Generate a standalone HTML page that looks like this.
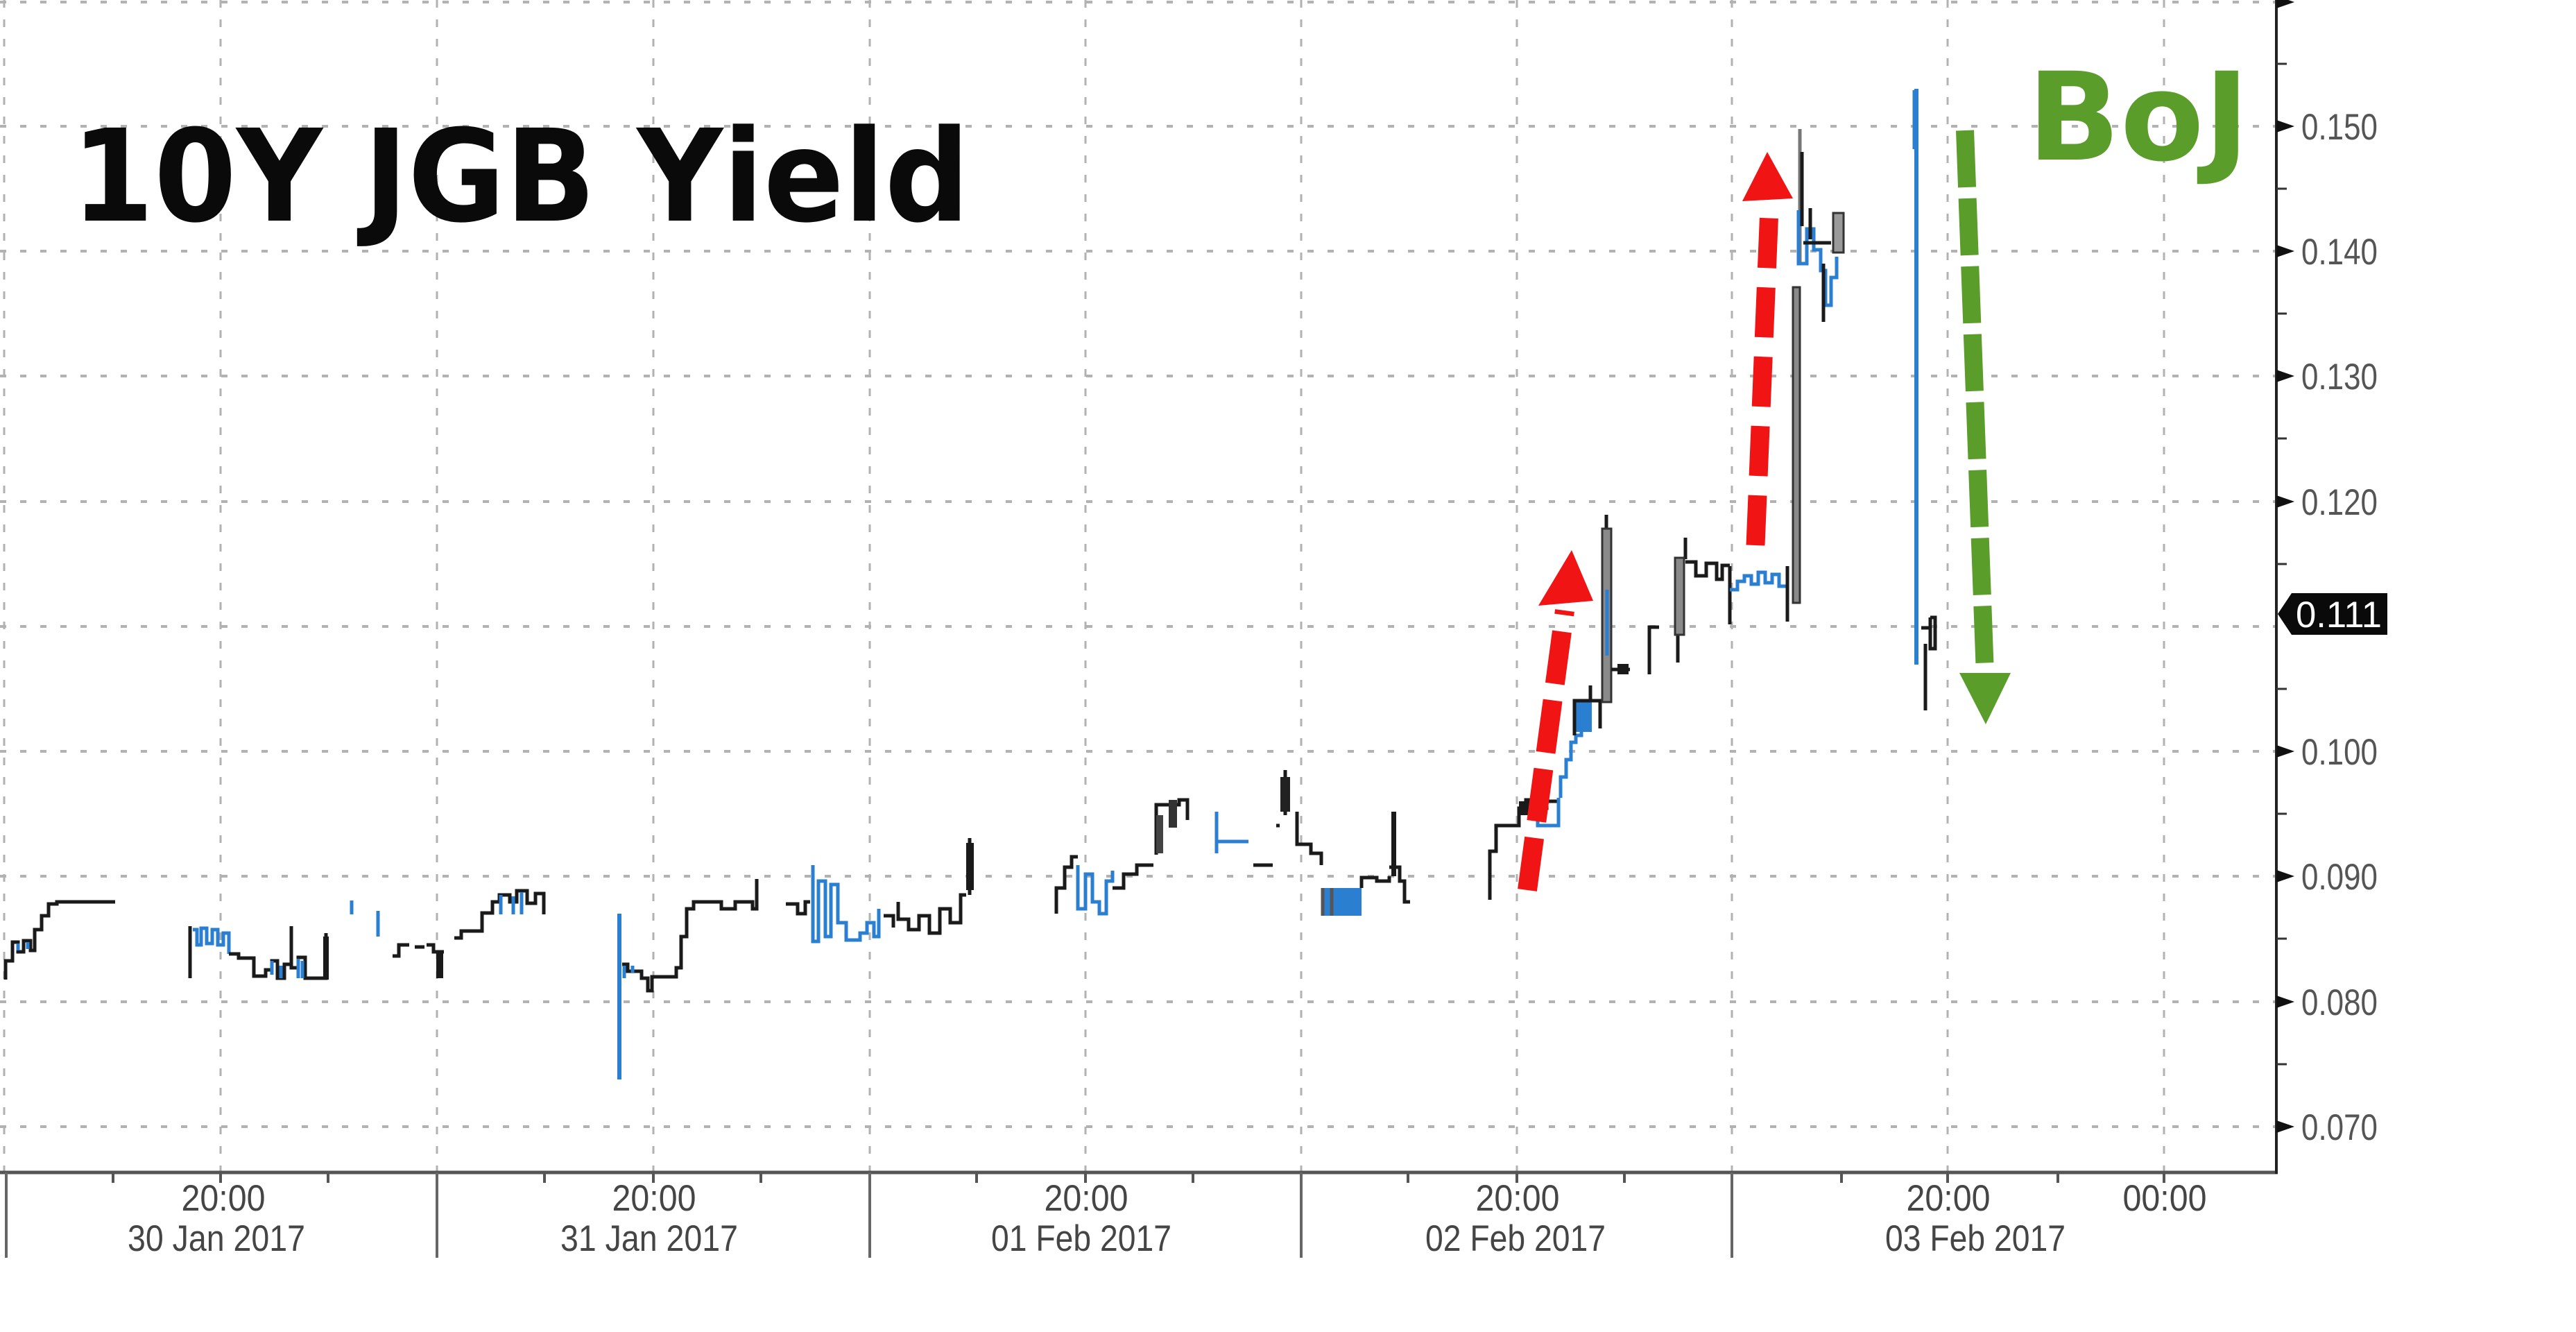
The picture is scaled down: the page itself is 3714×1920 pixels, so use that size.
<!DOCTYPE html>
<html>
<head>
<meta charset="utf-8">
<style>
  html,body{margin:0;padding:0;background:#fff;}
  svg{display:block;}
</style>
</head>
<body>
<svg width="3714" height="1920" viewBox="0 0 3714 1920" xmlns="http://www.w3.org/2000/svg">
  <rect x="0" y="0" width="3714" height="1920" fill="#ffffff"/>

  <!-- horizontal grid -->
  <g stroke="#b2b2b2" stroke-width="4" stroke-dasharray="9 20" fill="none">
    <line x1="0" y1="3" x2="3282" y2="3"/>
    <line x1="0" y1="182" x2="3282" y2="182"/>
    <line x1="0" y1="362" x2="3282" y2="362"/>
    <line x1="0" y1="542" x2="3282" y2="542"/>
    <line x1="0" y1="723" x2="3282" y2="723"/>
    <line x1="0" y1="903" x2="3282" y2="903"/>
    <line x1="0" y1="1083" x2="3282" y2="1083"/>
    <line x1="0" y1="1263" x2="3282" y2="1263"/>
    <line x1="0" y1="1444" x2="3282" y2="1444"/>
    <line x1="0" y1="1624" x2="3282" y2="1624"/>
  </g>
  <!-- vertical grid -->
  <g stroke="#b2b2b2" stroke-width="3" stroke-dasharray="11 17" fill="none">
    <line x1="6" y1="0" x2="6" y2="1689"/>
    <line x1="318" y1="0" x2="318" y2="1689"/>
    <line x1="630" y1="0" x2="630" y2="1689"/>
    <line x1="942" y1="0" x2="942" y2="1689"/>
    <line x1="1254" y1="0" x2="1254" y2="1689"/>
    <line x1="1565" y1="0" x2="1565" y2="1689"/>
    <line x1="1876" y1="0" x2="1876" y2="1689"/>
    <line x1="2187" y1="0" x2="2187" y2="1689"/>
    <line x1="2497" y1="0" x2="2497" y2="1689"/>
    <line x1="2808" y1="0" x2="2808" y2="1689"/>
    <line x1="3120" y1="0" x2="3120" y2="1689"/>
  </g>

  <!-- title -->
  <text x="103" y="318" font-family="'DejaVu Sans','Liberation Sans',sans-serif" font-weight="bold" font-size="184" fill="#0a0a0a" textLength="1295" lengthAdjust="spacingAndGlyphs">10Y JGB Yield</text>

  <!-- BoJ -->
  <text x="2923" y="230" font-family="'DejaVu Sans','Liberation Sans',sans-serif" font-weight="bold" font-size="176" fill="#5a9d2a" textLength="320" lengthAdjust="spacingAndGlyphs">BoJ</text>

  <!-- ===== SERIES ===== -->
  <g fill="none" stroke-width="5" stroke-linejoin="miter">
    <!-- 30 Jan early -->
    <path stroke="#1a1a1a" d="M8,1412 V1385 H18 V1358 H26 V1372 H34 V1356 H44 V1370 H50 V1340 H60 V1320 H70 V1303 H82 V1300 H166"/>
    <path stroke="#2b7fd0" d="M26,1360 V1370 M40,1358 V1368"/>

    <!-- 30 Jan 20:00 -->
    <path stroke="#1a1a1a" d="M274,1335 V1410"/>
    <path stroke="#2b7fd0" d="M278,1340 H284 V1362 H290 V1338 H298 V1360 H306 V1340 H314 V1362 H322 V1345 H330 V1375"/>
    <path stroke="#1a1a1a" d="M330,1375 H344 V1381 H366 V1407 H383 V1398 H392 V1385 H400 V1410 H410 V1390 H420 V1335 V1395 H430 V1380 H440 V1410 H470 V1345"/>
    <path stroke="#2b7fd0" d="M392,1385 V1405 M405,1392 V1410 M430,1382 V1410 M436,1385 V1410"/>
    <rect x="466" y="1350" width="8" height="62" fill="#1a1a1a"/>

    <!-- 31 Jan early -->
    <path stroke="#2b7fd0" d="M507,1298 V1318 M545,1313 V1350"/>
    <path stroke="#1a1a1a" d="M566,1378 H575 V1362 H590 M598,1365 H612 M615,1362 H625 V1372 H640 M655,1352 H665 V1342 H695 V1316 H710 V1300 H720 V1290 H735 V1300 H745 V1284 H760 V1302 H772 V1288 H784 V1318"/>
    <rect x="629" y="1370" width="10" height="40" fill="#1a1a1a"/>
    <path stroke="#2b7fd0" d="M722,1290 V1318 M740,1292 V1318 M752,1286 V1318"/>

    <!-- 31 Jan 20:00 -->
    <path stroke="#2b7fd0" stroke-width="6" d="M893,1317 V1556"/>
    <path stroke="#1a1a1a" d="M897,1390 H905 V1400 H925 V1410 H934 V1428 H940 V1408 H975 V1395 H982 V1350 H990 V1310 H1000 V1300 H1040 V1310 H1060 V1300 H1085 V1310 H1091 V1267 V1300"/>
    <path stroke="#2b7fd0" d="M900,1392 V1410 M912,1392 V1402"/>
    <path stroke="#1a1a1a" d="M1133,1303 H1150 V1317 H1161 V1300 H1168"/>
    <path stroke="#2b7fd0" d="M1172,1247 V1357 H1180 V1270 H1190 V1350 H1198 V1275 H1208 V1330 H1220 V1355 H1240 V1345 H1250 V1330 H1260 V1350 H1267 V1310"/>
    <path stroke="#1a1a1a" d="M1274,1320 H1288 V1337 M1295,1300 V1325 H1310 V1340 H1325 V1320 H1340 V1345 H1355 V1310 H1370 V1330 H1385 V1290 H1393"/>
    <path stroke="#1a1a1a" d="M1398,1208 V1290"/>
    <rect x="1393" y="1215" width="11" height="68" fill="#1a1a1a"/>

    <!-- 01 Feb -->
    <path stroke="#1a1a1a" d="M1523,1317 V1280 H1535 V1250 H1545 V1235 H1554"/>
    <path stroke="#2b7fd0" d="M1554,1247 V1310 H1565 V1260 H1575 V1300 H1585 V1317 H1595 V1270 H1604 V1255"/>
    <path stroke="#1a1a1a" d="M1604,1280 H1620 V1260 H1639 V1247 H1663 M1667,1232 V1160 H1700 V1153 H1712 V1182"/>
    <rect x="1667" y="1175" width="10" height="55" fill="#444"/>
    <rect x="1685" y="1153" width="12" height="40" fill="#333"/>
    <path stroke="#2b7fd0" d="M1754,1170 V1230 M1754,1213 H1800"/>
    <path stroke="#1a1a1a" d="M1807,1247 H1835 M1840,1190 H1845"/>
    <path stroke="#1a1a1a" d="M1853,1110 V1175"/>
    <rect x="1846" y="1120" width="14" height="50" fill="#222"/>
    <path stroke="#1a1a1a" d="M1870,1170 V1217 H1890 V1230 H1905 V1247"/>
    <rect x="1907" y="1280" width="56" height="40" fill="#2b7fd0"/>
    <path stroke="#555" d="M1907,1280 V1320 M1920,1280 V1320"/>
    <path stroke="#1a1a1a" d="M1963,1280 V1265 H1985 V1270 H2003 V1263 M2003,1250 H2018 V1270 H2025 V1300 H2033"/>
    <rect x="2006" y="1170" width="7" height="93" fill="#1a1a1a"/>

    <!-- 02 Feb rise -->
    <path stroke="#1a1a1a" d="M2148,1297 V1227 H2157 V1190 H2190 V1165 H2200 V1153 H2215 V1165 H2230 V1155 H2247"/>
    <rect x="2190" y="1155" width="22" height="20" fill="#1a1a1a"/>
    <path stroke="#2b7fd0" d="M2217,1160 V1190 H2247 V1150 M2250,1150 V1120 H2258 V1095 H2265 V1070 H2272 V1060 H2280 V1030"/>
    <rect x="2270" y="1010" width="25" height="45" fill="#2b7fd0"/>
    <path stroke="#1a1a1a" d="M2270,1060 V1010 H2307 V1050 M2293,988 V1010"/>
    <path stroke="#1a1a1a" d="M2316,742 V765"/>
    <rect x="2310" y="762" width="13" height="250" fill="#8a8a8a" stroke="#333" stroke-width="3"/>
    <path stroke="#2b7fd0" d="M2317,850 V945"/>
    <path stroke="#1a1a1a" d="M2323,965 H2350"/>
    <rect x="2332" y="957" width="16" height="15" fill="#1a1a1a"/>

    <path stroke="#1a1a1a" d="M2378,972 V904 H2392 M2419,955 V915"/>
    <path stroke="#1a1a1a" d="M2430,775 V806"/>
    <rect x="2415" y="804" width="13" height="111" fill="#8a8a8a" stroke="#333" stroke-width="3"/>
    <path stroke="#1a1a1a" d="M2430,810 H2445 V830 H2460 V812 H2475 V835 H2483 V815 H2494 M2494,900 V816"/>
    <path stroke="#2b7fd0" d="M2494,850 H2505 V838 H2515 V830 H2525 V842 H2535 V825 H2545 V840 H2555 V828 H2565 V845 H2577"/>
    <path stroke="#1a1a1a" d="M2577,896 V816"/>
    <rect x="2585" y="414" width="10" height="455" fill="#8a8a8a" stroke="#333" stroke-width="3"/>
    <path stroke="#777" d="M2595,186 V380"/>
    <path stroke="#1a1a1a" d="M2598,219 V326"/>
    <path stroke="#2b7fd0" d="M2593,303 V380 H2605 V330 H2615 V360 H2625 V390 H2632 V440 H2640 V400 H2648 V370"/>
    <rect x="2643" y="307" width="15" height="57" fill="#9a9a9a" stroke="#333" stroke-width="3"/>
    <path stroke="#1a1a1a" d="M2629,380 V464 M2600,350 H2640 M2610,300 V345"/>

    <!-- BoJ spike -->
    <path stroke="#2b7fd0" stroke-width="6" d="M2763,128 V958"/>
    <path stroke="#2b7fd0" stroke-width="3" d="M2759,130 V215"/>
    <path stroke="#1a1a1a" d="M2776,928 V1024 M2783,890 V935 H2790 V890 H2783 M2770,905 H2782"/>
  </g>

  <!-- ===== ARROWS ===== -->
  <line x1="2202" y1="1283" x2="2256" y2="880" stroke="#f01414" stroke-width="28" stroke-dasharray="76 24"/>
  <polygon points="2218,873 2297,866 2266,793" fill="#f01414"/>
  <line x1="2531" y1="786" x2="2551" y2="300" stroke="#f01414" stroke-width="27" stroke-dasharray="72 28"/>
  <polygon points="2512,290 2585,286 2548,219" fill="#f01414"/>
  <line x1="2833" y1="188" x2="2862" y2="972" stroke="#5a9d2a" stroke-width="26" stroke-dasharray="82 16"/>
  <polygon points="2825,970 2899,970 2863,1044" fill="#5a9d2a"/>

  <!-- ===== AXES ===== -->
  <line x1="0" y1="1690" x2="3284" y2="1690" stroke="#555" stroke-width="5"/>
  <g stroke="#666" stroke-width="4">
    <line x1="9" y1="1690" x2="9" y2="1813"/>
    <line x1="630" y1="1690" x2="630" y2="1813"/>
    <line x1="1254" y1="1690" x2="1254" y2="1813"/>
    <line x1="1876" y1="1690" x2="1876" y2="1813"/>
    <line x1="2497" y1="1690" x2="2497" y2="1813"/>
  </g>
  <g stroke="#555" stroke-width="4">
    <line x1="163" y1="1690" x2="163" y2="1705"/>
    <line x1="318" y1="1690" x2="318" y2="1705"/>
    <line x1="473" y1="1690" x2="473" y2="1705"/>
    <line x1="785" y1="1690" x2="785" y2="1705"/>
    <line x1="942" y1="1690" x2="942" y2="1705"/>
    <line x1="1097" y1="1690" x2="1097" y2="1705"/>
    <line x1="1408" y1="1690" x2="1408" y2="1705"/>
    <line x1="1565" y1="1690" x2="1565" y2="1705"/>
    <line x1="1720" y1="1690" x2="1720" y2="1705"/>
    <line x1="2030" y1="1690" x2="2030" y2="1705"/>
    <line x1="2187" y1="1690" x2="2187" y2="1705"/>
    <line x1="2342" y1="1690" x2="2342" y2="1705"/>
    <line x1="2655" y1="1690" x2="2655" y2="1705"/>
    <line x1="2808" y1="1690" x2="2808" y2="1705"/>
    <line x1="2967" y1="1690" x2="2967" y2="1705"/>
    <line x1="3120" y1="1690" x2="3120" y2="1705"/>
  </g>
  <g font-family="'Liberation Sans','DejaVu Sans',sans-serif" font-size="53" fill="#454545" text-anchor="middle">
    <text x="322" y="1745" textLength="121" lengthAdjust="spacingAndGlyphs">20:00</text>
    <text x="943" y="1745" textLength="121" lengthAdjust="spacingAndGlyphs">20:00</text>
    <text x="1566" y="1745" textLength="121" lengthAdjust="spacingAndGlyphs">20:00</text>
    <text x="2188" y="1745" textLength="121" lengthAdjust="spacingAndGlyphs">20:00</text>
    <text x="2809" y="1745" textLength="121" lengthAdjust="spacingAndGlyphs">20:00</text>
    <text x="3121" y="1745" textLength="121" lengthAdjust="spacingAndGlyphs">00:00</text>
    <text x="312" y="1803" textLength="256" lengthAdjust="spacingAndGlyphs">30 Jan 2017</text>
    <text x="936" y="1803" textLength="256" lengthAdjust="spacingAndGlyphs">31 Jan 2017</text>
    <text x="1559" y="1803" textLength="260" lengthAdjust="spacingAndGlyphs">01 Feb 2017</text>
    <text x="2185" y="1803" textLength="260" lengthAdjust="spacingAndGlyphs">02 Feb 2017</text>
    <text x="2848" y="1803" textLength="260" lengthAdjust="spacingAndGlyphs">03 Feb 2017</text>
  </g>

  <line x1="3282" y1="0" x2="3282" y2="1692" stroke="#222" stroke-width="4"/>
  <g fill="#111">
    <polygon points="3282,-6 3308,3 3282,12"/>
    <polygon points="3282,173 3308,182 3282,191"/>
    <polygon points="3282,353 3308,362 3282,371"/>
    <polygon points="3282,533 3308,542 3282,551"/>
    <polygon points="3282,714 3308,723 3282,732"/>
    <polygon points="3282,1074 3308,1083 3282,1092"/>
    <polygon points="3282,1254 3308,1263 3282,1272"/>
    <polygon points="3282,1435 3308,1444 3282,1453"/>
    <polygon points="3282,1615 3308,1624 3282,1633"/>
  </g>
  <g stroke="#333" stroke-width="3">
    <line x1="3282" y1="92" x2="3297" y2="92"/>
    <line x1="3282" y1="272" x2="3297" y2="272"/>
    <line x1="3282" y1="452" x2="3297" y2="452"/>
    <line x1="3282" y1="632" x2="3297" y2="632"/>
    <line x1="3282" y1="813" x2="3297" y2="813"/>
    <line x1="3282" y1="993" x2="3297" y2="993"/>
    <line x1="3282" y1="1173" x2="3297" y2="1173"/>
    <line x1="3282" y1="1353" x2="3297" y2="1353"/>
    <line x1="3282" y1="1534" x2="3297" y2="1534"/>
  </g>
  <g font-family="'Liberation Sans','DejaVu Sans',sans-serif" font-size="53" fill="#555">
    <text x="3318" y="201" textLength="110" lengthAdjust="spacingAndGlyphs">0.150</text>
    <text x="3318" y="381" textLength="110" lengthAdjust="spacingAndGlyphs">0.140</text>
    <text x="3318" y="561" textLength="110" lengthAdjust="spacingAndGlyphs">0.130</text>
    <text x="3318" y="742" textLength="110" lengthAdjust="spacingAndGlyphs">0.120</text>
    <text x="3318" y="1102" textLength="110" lengthAdjust="spacingAndGlyphs">0.100</text>
    <text x="3318" y="1282" textLength="110" lengthAdjust="spacingAndGlyphs">0.090</text>
    <text x="3318" y="1463" textLength="110" lengthAdjust="spacingAndGlyphs">0.080</text>
    <text x="3318" y="1643" textLength="110" lengthAdjust="spacingAndGlyphs">0.070</text>
  </g>

  <polygon points="3284,885 3304,855 3442,855 3442,915 3304,915" fill="#0a0a0a"/>
  <text x="3310" y="904" font-family="'Liberation Sans','DejaVu Sans',sans-serif" font-size="53" fill="#ffffff" textLength="124" lengthAdjust="spacingAndGlyphs">0.111</text>
</svg>
</body>
</html>
